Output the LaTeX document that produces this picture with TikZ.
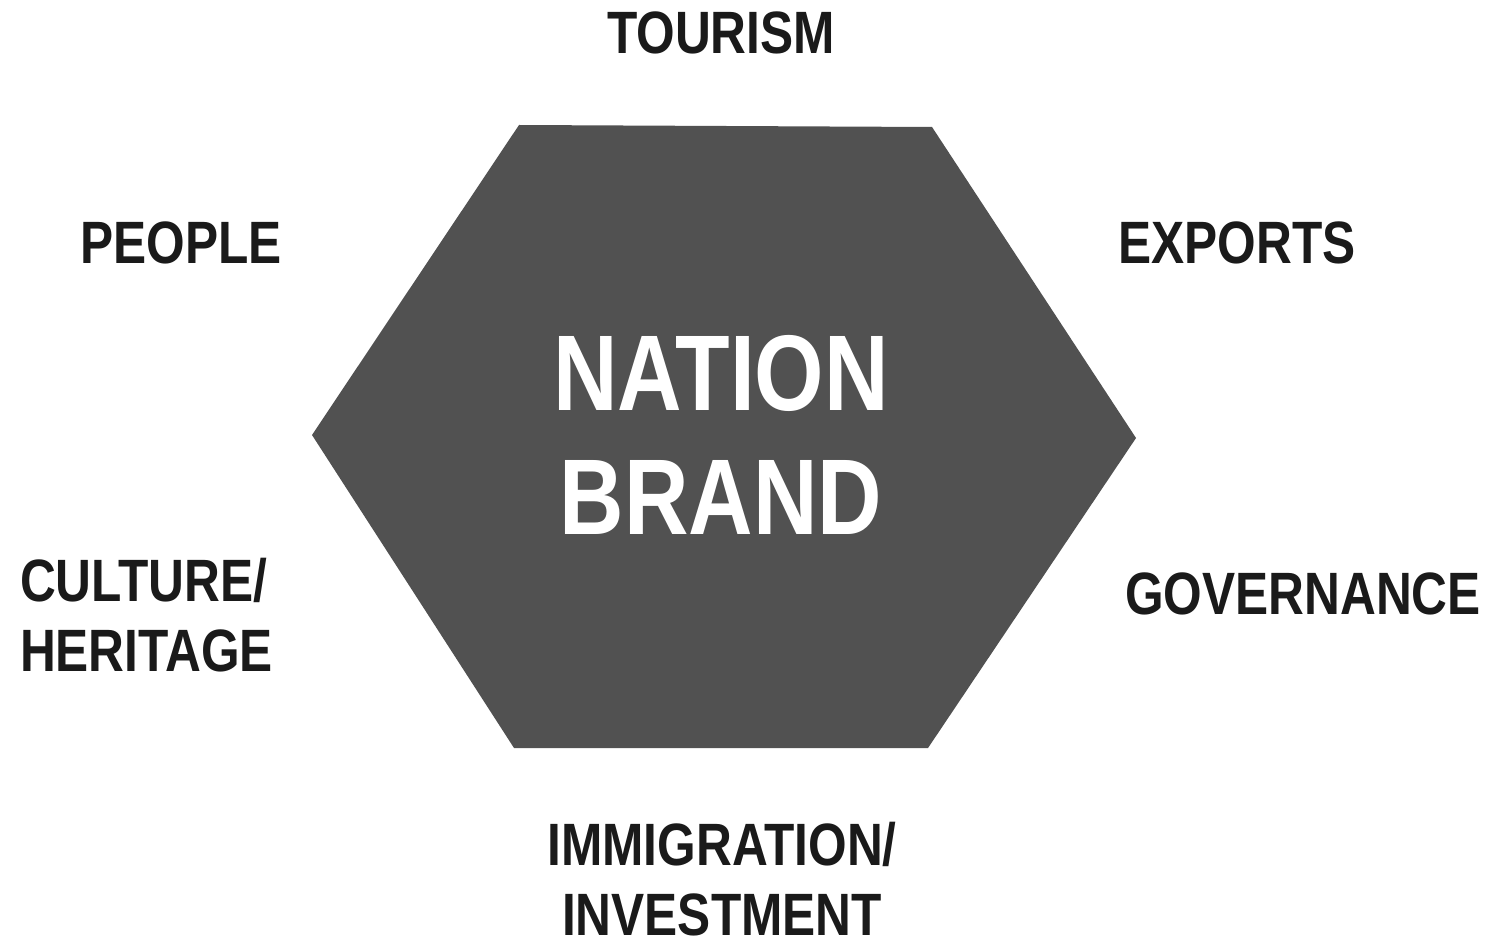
\documentclass[tikz,border=0pt]{standalone}
\usepackage{fontspec}
\newfontfamily\brandfont[FakeStretch=0.83]{Liberation Sans}
\usepackage{xcolor}
\definecolor{hexgray}{HTML}{515151}
\definecolor{labelblack}{HTML}{1A1A1A}
\usetikzlibrary{positioning}

\begin{document}
\begin{tikzpicture}[x=0.01cm,y=-0.01cm,
    every node/.style={inner sep=0pt,outer sep=0pt},
    pillar/.style={text=labelblack,font=\brandfont\bfseries\fontsize{17}{20}\selectfont},
    core/.style={text=white,align=center,font=\brandfont\bfseries\fontsize{30.6}{35.4}\selectfont}]
    \useasboundingbox (0,0) rectangle (1492,943);
    % corners of the hexagon
    \coordinate (NW) at (519,125);
    \coordinate (NE) at (932,127);
    \coordinate (E)  at (1136,438);
    \coordinate (SE) at (928,748);
    \coordinate (SW) at (514,748);
    \coordinate (W)  at (312,435);
    \fill[hexgray] (NW) -- (NE) -- (E) -- (SE) -- (SW) -- (W) -- cycle;
    \node[core] (brand) at (721,435) {NATION\\BRAND};
    % the six pillars round it
    \node[pillar] (tourism) at (721,33) {TOURISM};
    \node[pillar] (people) at (181,243) {PEOPLE};
    \node[pillar] (exports) at (1237,243) {EXPORTS};
    \node[pillar,align=left,anchor=west] (culture) at (20,615) {CULTURE/\\HERITAGE};
    \node[pillar] (governance) at (1303,594) {GOVERNANCE};
    \node[pillar,align=center] (immigration) at (722,879) {IMMIGRATION/\\INVESTMENT};
\end{tikzpicture}
\end{document}
